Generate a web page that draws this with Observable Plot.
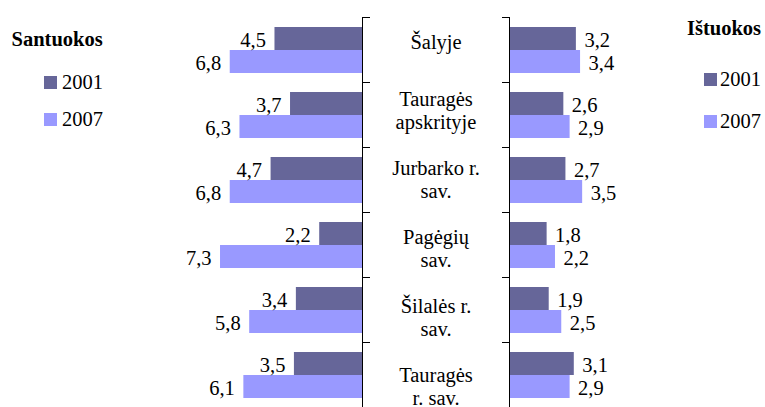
<!DOCTYPE html>
<html>
<head>
<meta charset="utf-8">
<script src="https://cdn.jsdelivr.net/npm/d3@7"></script>
<script src="https://cdn.jsdelivr.net/npm/@observablehq/plot@0.6"></script>
<style>
  html, body { margin: 0; padding: 0; background: white; }
  #wrap { position: relative; width: 765px; height: 407px; overflow: hidden; background: white; }
  #wrap svg { position: absolute; left: 0; top: 0; }
  .lg { position: absolute; line-height: 20px; white-space: nowrap; font-family: 'Liberation Serif'; font-size: 20.5px; color: #000; }
  .sw { position: absolute; width: 13px; height: 13px; }
</style>
</head>
<body>
<div id="wrap"></div>
<script>
// ---- data ----
const categories = ["Šalyje", "Tauragės\napskrityje", "Jurbarko r.\nsav.", "Pagėgių\nsav.", "Šilalės r.\nsav.", "Tauragės\nr. sav."];
const years = ["2001", "2007"];
const colors = ["#666699", "#9999FF"];
const santuokos2001 = [4.5, 3.7, 4.7, 2.2, 3.4, 3.5];
const santuokos2007 = [6.8, 6.3, 6.8, 7.3, 5.8, 6.1];
const istuokos2001 = [3.2, 2.6, 2.7, 1.8, 1.9, 3.1];
const istuokos2007 = [3.4, 2.9, 3.5, 2.2, 2.5, 2.9];
const titleLeft = "Santuokos";
const titleRight = "Ištuokos";

const FONT = "Liberation Serif";
const FS = 20.5;

function rows(a, b) {
  const out = [];
  categories.forEach((c, i) => {
    out.push({cat: c, year: years[0], value: a[i]});
    out.push({cat: c, year: years[1], value: b[i]});
  });
  return out;
}
const leftRows = rows(santuokos2001, santuokos2007);
const rightRows = rows(istuokos2001, istuokos2007);
const fmt = v => v.toFixed(1).replace(".", ",");

const W = 765, H = 409;
const svgStyle = {background: "transparent", fontFamily: FONT, fontSize: FS + "px", color: "#000"};
const common = {
  width: W, height: H, marginTop: 14, marginBottom: 0, marginLeft: 0, marginRight: 0,
  fy: {domain: categories, padding: 0, axis: null},
  y: {domain: years, paddingInner: 0, paddingOuter: 0.37, axis: null},
  color: {domain: years, range: colors},
  style: svgStyle
};

const left = Plot.plot({
  ...common,
  x: {domain: [0, 10], range: [362, 167.5], axis: null},
  marks: [
    Plot.barX(leftRows, {fy: "cat", y: "year", x: "value", fill: "year"}),
    Plot.text(leftRows, {fy: "cat", y: "year", x: "value", text: d => fmt(d.value), textAnchor: "end", dx: -9, dy: 1, fontSize: FS, fontFamily: FONT, fill: "#000"})
  ]
});

const right = Plot.plot({
  ...common,
  x: {domain: [0, 10], range: [509, 718], axis: null},
  marks: [
    Plot.barX(rightRows, {fy: "cat", y: "year", x: "value", fill: "year"}),
    Plot.text(rightRows, {fy: "cat", y: "year", x: "value", text: d => fmt(d.value), textAnchor: "start", dx: 8, dy: 1, fontSize: FS, fontFamily: FONT, fill: "#000"})
  ]
});

// axis lines and boundary ticks (one frame per category facet)
const mid = Plot.plot({
  width: W, height: H, marginTop: 14, marginBottom: 0, marginLeft: 362, marginRight: W - 509,
  fy: {domain: categories, padding: 0, axis: null},
  style: svgStyle,
  marks: [
    Plot.dot(categories, {fy: d => d, r: 0, frameAnchor: "middle"}),
    Plot.frame({anchor: "left", stroke: "#000"}),
    Plot.frame({anchor: "right", stroke: "#000"}),
    Plot.frame({anchor: "top", insetRight: 140, stroke: "#000"}),
    Plot.frame({anchor: "top", insetLeft: 140, stroke: "#000"})
  ]
});

// category labels (spaced as in the original)
const labels = Plot.plot({
  width: W, height: H, marginTop: 0, marginBottom: 0, marginLeft: 362, marginRight: W - 509,
  y: {type: "point", domain: categories, range: [40.4, 385.8], padding: 0, axis: null},
  style: svgStyle,
  marks: [
    Plot.text(categories, {y: d => d, text: d => d, frameAnchor: "middle", textAnchor: "middle", lineHeight: 1.13, fontSize: FS, fontFamily: FONT, fill: "#000"})
  ]
});

const wrap = document.getElementById("wrap");
wrap.appendChild(left);
wrap.appendChild(right);
wrap.appendChild(mid);
wrap.appendChild(labels);

function addText(txt, x, top, bold) {
  const d = document.createElement("div");
  d.className = "lg";
  d.style.left = x + "px";
  d.style.top = top + "px";
  d.style.fontFamily = FONT;
  if (bold) d.style.fontWeight = "bold";
  d.textContent = txt;
  wrap.appendChild(d);
}
function addSwatch(color, x, top) {
  const d = document.createElement("div");
  d.className = "sw";
  d.style.left = x + "px";
  d.style.top = top + "px";
  d.style.background = color;
  wrap.appendChild(d);
}
// left legend
addText(titleLeft, 11.5, 29, true);
addSwatch(colors[0], 44, 76);
addText(years[0], 62, 71.5);
addSwatch(colors[1], 44, 113);
addText(years[1], 62, 109);
// right legend
addText(titleRight, 687, 18.3, true);
addSwatch(colors[0], 703.5, 73);
addText(years[0], 720, 69.3);
addSwatch(colors[1], 703.5, 115);
addText(years[1], 720, 111.3);
</script>
</body>
</html>
